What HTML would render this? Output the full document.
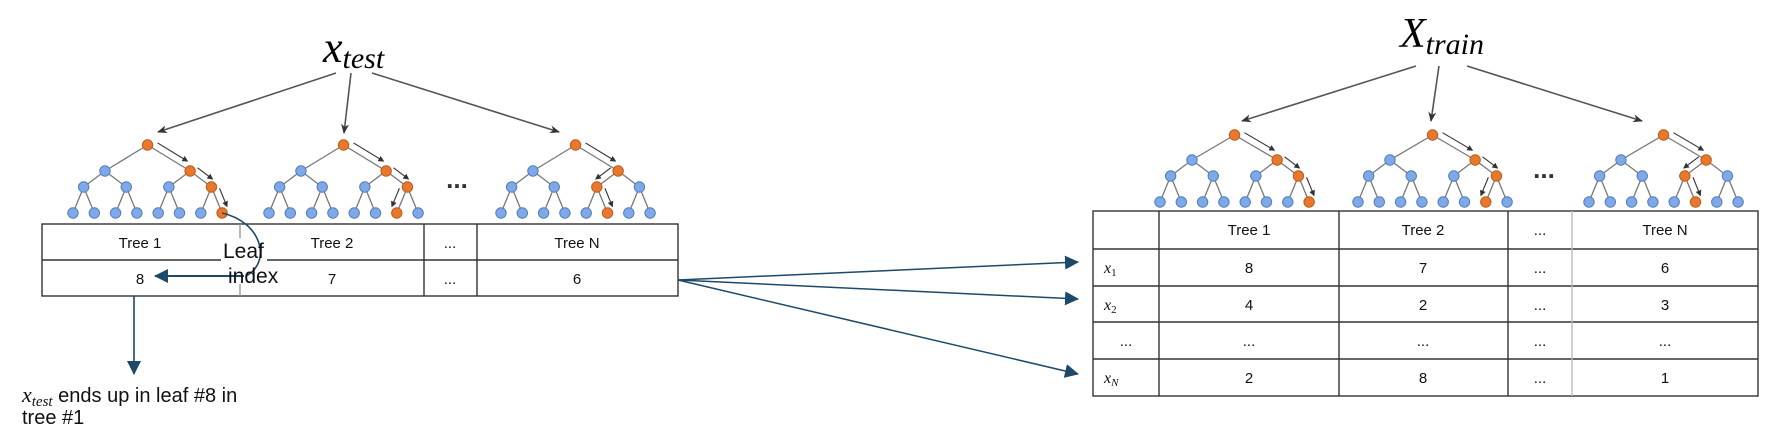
<!DOCTYPE html>
<html><head><meta charset="utf-8">
<style>
html,body{margin:0;padding:0;background:#fff;}
body{width:1770px;height:438px;overflow:hidden;position:relative;}
svg{position:absolute;left:0;top:0;}
</style></head>
<body>
<svg id="s" width="1770" height="438" viewBox="0 0 1770 438" xmlns="http://www.w3.org/2000/svg" font-family="Liberation Sans, sans-serif">
<defs>
<marker id="ag" markerWidth="10" markerHeight="10" refX="9" refY="5" orient="auto" markerUnits="userSpaceOnUse"><path d="M0,1 L10,5 L0,9 L3,5 z" fill="#333"/></marker>
<marker id="ab" markerWidth="14" markerHeight="14" refX="13" refY="7" orient="auto" markerUnits="userSpaceOnUse"><path d="M0,0 L14,7 L0,14 z" fill="#1d4a68"/></marker>
<marker id="as" markerWidth="6" markerHeight="6" refX="5" refY="3" orient="auto" markerUnits="userSpaceOnUse"><path d="M0,0 L6,3 L0,6 z" fill="#333"/></marker>
</defs>
<!-- titles -->
<text x="323" y="62" font-family="Liberation Serif, serif" font-style="italic" font-size="44">x<tspan font-size="30" dy="6">test</tspan></text>
<text x="1400" y="47" font-family="Liberation Serif, serif" font-style="italic" font-size="42">X<tspan font-size="30" dy="7">train</tspan></text>
<!-- title arrows -->
<g stroke="#555" stroke-width="1.6" fill="none" marker-end="url(#ag)">
<line x1="336" y1="73" x2="158" y2="132"/>
<line x1="351" y1="73" x2="344" y2="133"/>
<line x1="372" y1="73" x2="559" y2="132"/>
<line x1="1416" y1="66" x2="1242" y2="121"/>
<line x1="1439" y1="66" x2="1431" y2="121"/>
<line x1="1467" y1="66" x2="1642" y2="121"/>
</g>
<g id="trees"></g>
<text x="457" y="188" font-size="26" font-weight="bold" text-anchor="middle" fill="#333">...</text>
<text x="1544" y="178" font-size="26" font-weight="bold" text-anchor="middle" fill="#333">...</text>
<!-- left table -->
<g stroke="#333" stroke-width="1.4" fill="none">
<rect x="42" y="224" width="636" height="72"/>
<line x1="42" y1="260" x2="678" y2="260"/>
<line x1="240" y1="224" x2="240" y2="296" stroke="#999"/>
<line x1="424" y1="224" x2="424" y2="296"/>
<line x1="477" y1="224" x2="477" y2="296"/>
</g>
<g font-size="15" text-anchor="middle" fill="#111">
<text x="140" y="248">Tree 1</text><text x="332" y="248">Tree 2</text><text x="450" y="248">...</text><text x="577" y="248">Tree N</text>
<text x="140" y="284">8</text><text x="332" y="284">7</text><text x="450" y="284">...</text><text x="577" y="284">6</text>
</g>
<!-- leaf index -->
<rect x="221" y="238" width="46" height="46" fill="#fff"/>
<path d="M222,213 C262,222 272,262 246,276" stroke="#1d4a68" stroke-width="1.6" fill="none"/>
<line x1="244" y1="276" x2="155" y2="276" stroke="#1d4a68" stroke-width="2" marker-end="url(#ab)"/>
<text x="223" y="258" font-size="21" fill="#111">Leaf</text>
<text x="228" y="283" font-size="21" fill="#111">index</text>
<line x1="134" y1="296" x2="134" y2="374" stroke="#1d4a68" stroke-width="1.6" marker-end="url(#ab)"/>
<text x="22" y="402" font-size="20" fill="#111"><tspan font-family="Liberation Serif, serif" font-style="italic" font-size="22">x</tspan><tspan font-family="Liberation Serif, serif" font-style="italic" font-size="15" dy="4">test</tspan><tspan dy="-4"> ends up in leaf #8 in</tspan></text>
<text x="22" y="424" font-size="20" fill="#111">tree #1</text>
<!-- connectors -->
<g stroke="#1d4a68" stroke-width="1.5" fill="none" marker-end="url(#ab)">
<line x1="678" y1="280" x2="1078" y2="262"/>
<line x1="678" y1="280" x2="1078" y2="299"/>
<line x1="678" y1="280" x2="1078" y2="374"/>
</g>
<!-- right table -->
<g stroke="#333" stroke-width="1.4" fill="none">
<rect x="1093" y="211" width="665" height="185"/>
<line x1="1093" y1="249" x2="1758" y2="249"/>
<line x1="1093" y1="286" x2="1758" y2="286"/>
<line x1="1093" y1="322" x2="1758" y2="322"/>
<line x1="1093" y1="359" x2="1758" y2="359"/>
<line x1="1159" y1="211" x2="1159" y2="396"/>
<line x1="1339" y1="211" x2="1339" y2="396"/>
<line x1="1508" y1="211" x2="1508" y2="396"/>
<line x1="1572" y1="211" x2="1572" y2="396" stroke="#bbb"/>
</g>
<g font-size="15" text-anchor="middle" fill="#111">
<text x="1249" y="235">Tree 1</text><text x="1423" y="235">Tree 2</text><text x="1540" y="235">...</text><text x="1665" y="235">Tree N</text>
<text x="1249" y="273">8</text><text x="1423" y="273">7</text><text x="1540" y="273">...</text><text x="1665" y="273">6</text>
<text x="1249" y="310">4</text><text x="1423" y="310">2</text><text x="1540" y="310">...</text><text x="1665" y="310">3</text>
<text x="1126" y="346">...</text><text x="1249" y="346">...</text><text x="1423" y="346">...</text><text x="1540" y="346">...</text><text x="1665" y="346">...</text>
<text x="1249" y="383">2</text><text x="1423" y="383">8</text><text x="1540" y="383">...</text><text x="1665" y="383">1</text>
</g>
<g font-family="Liberation Serif, serif" font-style="italic" font-size="16" fill="#111">
<text x="1104" y="273">x<tspan font-style="normal" font-size="11" dy="3">1</tspan></text>
<text x="1104" y="310">x<tspan font-style="normal" font-size="11" dy="3">2</tspan></text>
<text x="1104" y="383">x<tspan font-size="11" dy="3">N</tspan></text>
</g>
</svg>
<script>
(function(){
var g=document.getElementById('trees'),NS='http://www.w3.org/2000/svg';
function el(n,a){var e=document.createElementNS(NS,n);for(var k in a)e.setAttribute(k,a[k]);g.appendChild(e);return e;}
// tree(leftLeafX, ys[4], leafIndex 0..7)
function tree(x0,ys,leaf){
  var sp=21.3,lv=[];
  lv[3]=[];for(var i=0;i<8;i++)lv[3].push(x0+i*sp);
  for(var L=2;L>=0;L--){lv[L]=[];for(var i=0;i<lv[L+1].length/2;i++)lv[L].push((lv[L+1][2*i]+lv[L+1][2*i+1])/2);}
  var path=[leaf>>3,leaf>>2,leaf>>1,leaf];
  path=[0,leaf>>2,leaf>>1,leaf];
  for(var L=0;L<3;L++)for(var i=0;i<lv[L].length;i++){
    for(var c=0;c<2;c++)el('line',{x1:lv[L][i],y1:ys[L],x2:lv[L+1][2*i+c],y2:ys[L+1],stroke:'#777','stroke-width':1.3});
  }
  for(var L=0;L<3;L++){
    var ax=lv[L][path[L]],ay=ys[L],bx=lv[L+1][path[L+1]],by=ys[L+1];
    var dx=bx-ax,dy=by-ay,len=Math.sqrt(dx*dx+dy*dy),nx=-dy/len,ny=dx/len;
    var off=-7; if(dx<0)off=7;
    var ox=nx*off,oy=ny*off;
    el('line',{x1:ax+ox+dx*0.15,y1:ay+oy+dy*0.15,x2:ax+ox+dx*0.85,y2:ay+oy+dy*0.85,stroke:'#333','stroke-width':1.1,'marker-end':'url(#as)'});
  }
  for(var L=0;L<4;L++)for(var i=0;i<lv[L].length;i++){
    var o=(path[L]==i);
    el('circle',{cx:lv[L][i],cy:ys[L],r:5.2,fill:o?'#e8782e':'#7fa9e6',stroke:o?'#c05a18':'#4f7cc0','stroke-width':1});
  }
}
var yl=[145,171,187,213],yr=[135,160,176,202];
tree(73,yl,7);tree(269,yl,6);tree(501,yl,5);
tree(1160,yr,7);tree(1358,yr,6);tree(1589,yr,5);
})();
</script>
</body></html>
